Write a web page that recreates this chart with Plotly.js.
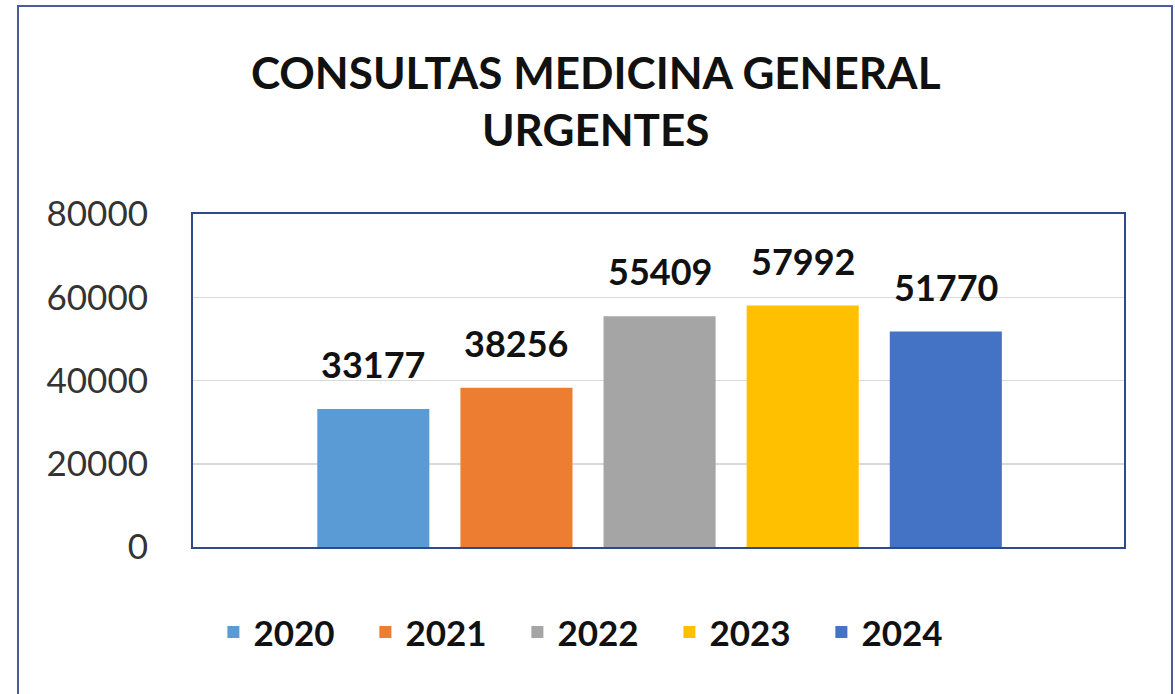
<!DOCTYPE html>
<html>
<head>
<meta charset="utf-8">
<script src="https://cdn.plot.ly/plotly-3.0.1.min.js"></script>
<style>
  html, body { margin: 0; padding: 0; background: #fff; }
  #chart { width: 1175px; height: 694px; position: absolute; left: 0; top: 0; }
  #frame { position: absolute; left: 17px; top: 5px; width: 1152px; height: 720px;
           border: 2px solid #4b5b9b; pointer-events: none; }
</style>
</head>
<body>
<div id="chart"></div>
<div id="frame"></div>
<script>
const years = ["2020", "2021", "2022", "2023", "2024"];
const values = [33177, 38256, 55409, 57992, 51770];
const colors = ["#5B9BD5", "#ED7D31", "#A5A5A5", "#FFC000", "#4472C4"];
const yTicks = [0, 20000, 40000, 60000, 80000];
const titleText = "CONSULTAS MEDICINA GENERAL<br>URGENTES";

const FONT = "Lato, 'Open Sans', sans-serif";

const traces = years.map((yr, i) => ({
  type: "bar",
  name: yr,
  x: [yr],
  y: [values[i]],
  marker: { color: colors[i] },
  hoverinfo: "name+y"
}));

const annotations = years.map((yr, i) => ({
  x: i, y: values[i], xref: "x", yref: "y",
  text: "<b>" + values[i] + "</b>",
  showarrow: false,
  yanchor: "bottom",
  yshift: 21,
  font: { family: FONT, size: 36, color: "#111" }
}));

const layout = {
  width: 1175, height: 694,
  margin: { l: 193, r: 51, t: 214, b: 147 },
  paper_bgcolor: "#ffffff",
  plot_bgcolor: "#ffffff",
  barmode: "overlay",
  bargap: 0.217,
  showlegend: true,
  title: {
    text: titleText,
    xref: "container", yref: "container",
    x: 0.507, y: 0.872, xanchor: "center", yanchor: "middle",
    font: { family: FONT, size: 44, color: "#111", weight: "bold" }
  },
  xaxis: {
    type: "category",
    categoryorder: "array",
    categoryarray: years,
    range: [-1.26, 5.245],
    showticklabels: false,
    showgrid: false,
    zeroline: false,
    showline: true, mirror: true, linecolor: "#2f4a8c", linewidth: 2,
    fixedrange: true
  },
  yaxis: {
    range: [0, 80000],
    tickvals: yTicks,
    ticktext: yTicks.map(String),
    showgrid: true, gridcolor: "#d9d9d9", gridwidth: 1.5,
    zeroline: false,
    showline: true, mirror: true, linecolor: "#2f4a8c", linewidth: 2,
    ticks: "",
    ticklabelstandoff: 36,
    tickfont: { family: FONT, size: 35, color: "#333" },
    fixedrange: true
  },
  legend: {
    orientation: "h",
    xref: "container", yref: "container",
    x: 0.505, y: 0.089, xanchor: "center", yanchor: "middle",
    font: { family: FONT, size: 35, color: "#111", weight: "bold" },
    entrywidth: 107, entrywidthmode: "pixels",
    itemwidth: 30,
    tracegroupgap: 0
  },
  annotations: annotations
};

Plotly.newPlot("chart", traces, layout, { displayModeBar: false, staticPlot: true });
</script>
</body>
</html>
